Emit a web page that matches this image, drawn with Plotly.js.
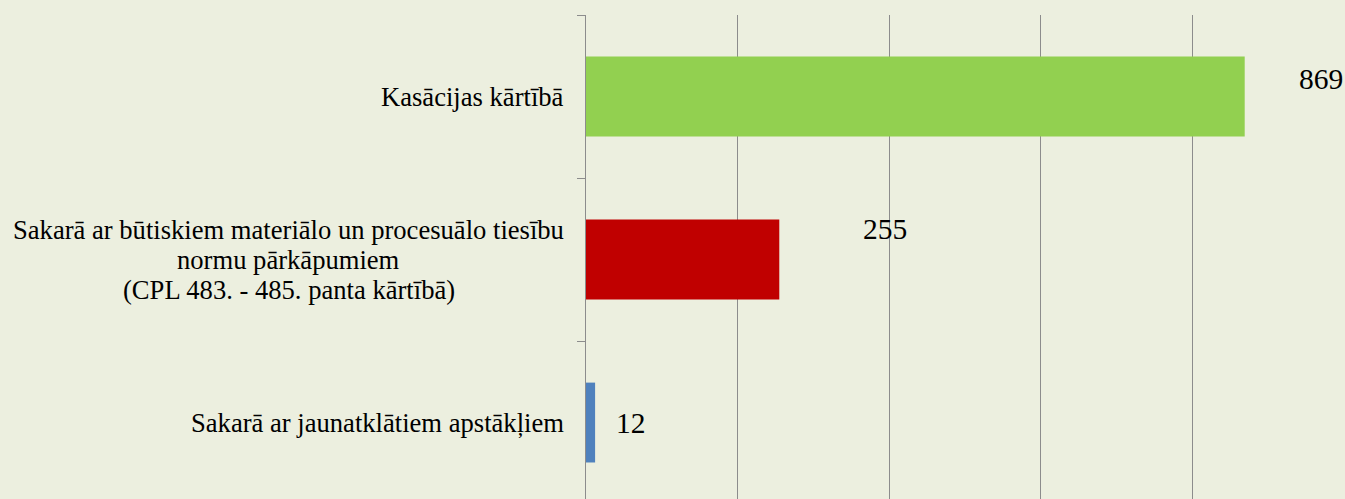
<!DOCTYPE html>
<html>
<head>
<meta charset="utf-8">
<script src="https://cdn.plot.ly/plotly-3.0.1.min.js"></script>
<style>html,body{margin:0;padding:0;background:#ECEFDF;}</style>
</head>
<body>
<div id="chart" style="width:1345px;height:499px;"></div>
<script>
// bottom to top
const categories = [
  "Sakarā ar jaunatklātiem apstākļiem",
  "Sakarā ar būtiskiem materiālo un procesuālo tiesību<br>normu pārkāpumiem<br>(CPL 483. - 485. panta kārtībā)",
  "Kasācijas kārtībā"
];
const values = [12, 255, 869];
const barColors = ["#4F81BD", "#C00000", "#92D050"];
const labelShiftX = [19, 82, 52];
const labelShiftY = [0, 31, 18];
const xTicks = [0, 200, 400, 600, 800, 1000];

const FONT = "'Liberation Serif', 'Times New Roman', serif";
const CAT_SIZE = 26.6;
const VAL_SIZE = 29.5;
const LINE_GAP = 30;
const LABEL_PAD = 22;

const trace = {
  type: "bar",
  orientation: "h",
  y: categories,
  x: values,
  width: 0.49,
  marker: {color: barColors},
  hoverinfo: "none"
};

const ctx = document.createElement("canvas").getContext("2d");
ctx.font = CAT_SIZE + "px " + FONT;

const annotations = [];
categories.forEach((c, i) => {
  const lines = c.split("<br>");
  const maxW = Math.max(...lines.map(l => ctx.measureText(l).width));
  const n = lines.length;
  lines.forEach((line, k) => {
    annotations.push({
      xref: "paper", yref: "y", x: 0, y: c,
      text: line, showarrow: false, xanchor: "center", yanchor: "middle",
      xshift: -(LABEL_PAD + maxW / 2),
      yshift: -(k - (n - 1) / 2) * LINE_GAP,
      font: {family: FONT, size: CAT_SIZE, color: "#000"}
    });
  });
  annotations.push({
    xref: "x", yref: "y", x: values[i], y: c,
    text: String(values[i]), showarrow: false, xanchor: "left", yanchor: "middle",
    xshift: labelShiftX[i], yshift: labelShiftY[i],
    font: {family: FONT, size: VAL_SIZE, color: "#000"}
  });
});

const layout = {
  width: 1345, height: 499,
  margin: {l: 586, r: 1, t: 15, b: 0},
  paper_bgcolor: "#ECEFDF",
  plot_bgcolor: "#ECEFDF",
  showlegend: false,
  font: {family: FONT},
  xaxis: {
    range: [0, 1000],
    tickvals: xTicks,
    showticklabels: false,
    showgrid: true, gridcolor: "#8C8C8C", gridwidth: 1,
    zeroline: false, showline: false, ticks: "", fixedrange: true
  },
  yaxis: {
    type: "category",
    categoryorder: "array", categoryarray: categories,
    range: [-0.469, 2.5],
    showticklabels: false,
    tickson: "boundaries",
    ticks: "outside", ticklen: 8, tickcolor: "#8C8C8C", tickwidth: 1,
    showline: true, linecolor: "#8C8C8C", linewidth: 1,
    showgrid: false, zeroline: false, fixedrange: true
  },
  annotations: annotations
};

Plotly.newPlot("chart", [trace], layout, {displayModeBar: false, staticPlot: true});
</script>
</body>
</html>
